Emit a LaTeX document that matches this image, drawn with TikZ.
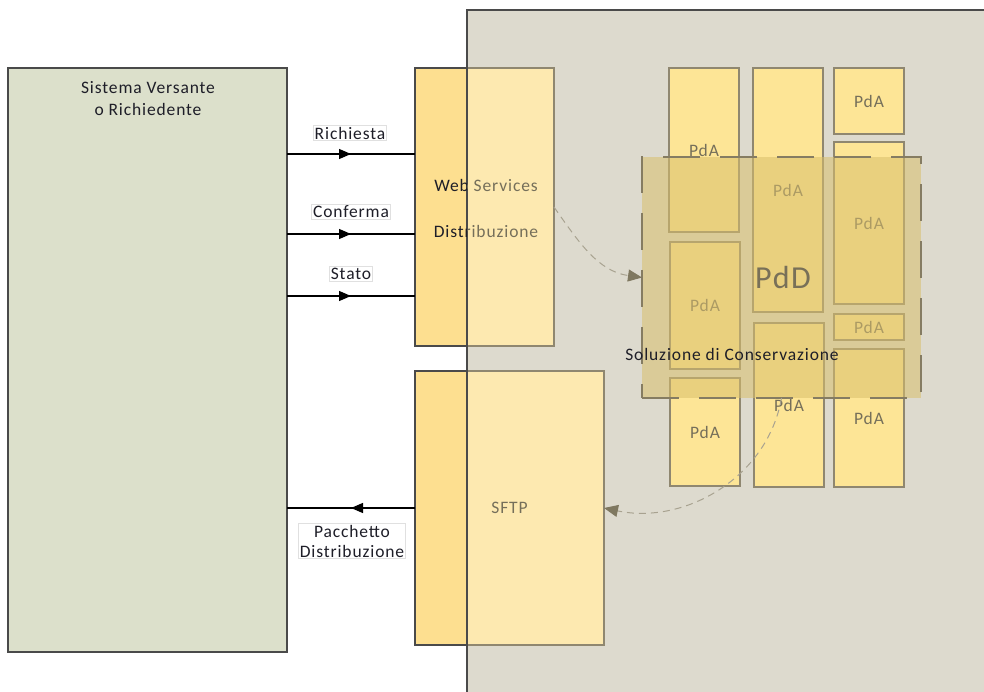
\documentclass[tikz,border=0pt]{standalone}
\usepackage{fontspec}
\setmainfont{Carlito}[LetterSpace=5]
\usetikzlibrary{arrows.meta,decorations.markings}
\definecolor{greyreg}{HTML}{DDDACE}
\definecolor{greenbox}{HTML}{DCE0CB}
\definecolor{yelA}{HTML}{FDDF90}
\definecolor{yelB}{HTML}{FDE9B0}
\definecolor{pda}{HTML}{FDE596}
\definecolor{pdaline}{HTML}{8F8770}
\definecolor{overlayc}{HTML}{D9BF6C}
\definecolor{greytxt}{HTML}{756F5A}
\definecolor{darkline}{HTML}{4A4A4A}
\definecolor{txtdark}{HTML}{1E1E28}
\definecolor{dashc}{HTML}{A8A290}
\definecolor{tipc}{HTML}{7F7860}
\definecolor{pddline}{HTML}{857C62}
\tikzset{
  box/.style={anchor=north west, inner sep=0pt, outer sep=0pt},
  pdabox/.style={box, draw=pdaline, fill=pda, line width=1.2pt},
  pdatxt/.style={text=greytxt, font=\fontsize{17.5}{20}\selectfont},
  flow/.style={draw=black, line width=1.2pt, postaction={decorate},
    decoration={markings, mark=at position #1 with {\arrow{Triangle[length=12pt,width=10pt]}}}},
  lbl/.style={draw=black!12, fill=white, line width=0.6pt, inner sep=1.5pt, text=txtdark,
    font=\fontsize{17.5}{20}\selectfont, align=center},
  dasharrow/.style={draw=dashc, line width=1pt, dash pattern=on 7pt off 5pt,
    -{Triangle[length=14pt,width=12pt,color=tipc]}},
  wstxt/.style={font=\fontsize{17.5}{21}\selectfont, align=center}
}
\begin{document}
\begin{tikzpicture}[x=1pt,y=-1pt]
\useasboundingbox (0,0) rectangle (984,692);
% big grey region
\node[box, draw=darkline, fill=greyreg, line width=1.6pt, minimum width=540pt, minimum height=700pt] (sol) at (467,10) {};
% left system box
\node[box, draw=darkline, fill=greenbox, line width=1.3pt, minimum width=279pt, minimum height=584pt] (sys) at (8,68) {};
\node[text=txtdark, font=\fontsize{17.5}{22}\selectfont, align=center] (systxt) at (148,99) {Sistema Versante\\o Richiedente};
% web services box
\node[box, draw=pdaline, fill=yelB, line width=1.2pt, minimum width=139pt, minimum height=278pt] (ws) at (415,68) {};
\filldraw[fill=yelA, draw=darkline, line width=1.2pt] (sol.west |- ws.north) -- (ws.north west) -- (ws.south west) -- (sol.west |- ws.south);
% sftp box
\node[box, draw=pdaline, fill=yelB, line width=1.2pt, minimum width=189pt, minimum height=274pt] (sftp) at (415,371) {};
\filldraw[fill=yelA, draw=darkline, line width=1.2pt] (sol.west |- sftp.north) -- (sftp.north west) -- (sftp.south west) -- (sol.west |- sftp.south);
\draw[darkline, line width=1.6pt] (sol.north west) -- (sol.south west);
% texts of ws
\begin{scope}
\clip (ws.north west) rectangle (sol.west |- ws.south);
\node[wstxt, text=txtdark] (wsA) at (486,208) {Web Services\\[25pt]Distribuzione};
\end{scope}
\begin{scope}
\clip (sol.west |- ws.north) rectangle (ws.south east);
\node[wstxt, text=greytxt] (wsB) at (486,208) {Web Services\\[25pt]Distribuzione};
\end{scope}
\node[pdatxt] (sftptxt) at (sftp.center) {SFTP};
% PdA boxes
\node[pdabox, minimum width=70pt, minimum height=164pt] (a1) at (669,68) {};
\node[pdatxt] at (a1.center) {PdA};
\node[pdabox, minimum width=70pt, minimum height=127pt] (a2) at (670,242) {};
\node[pdatxt] at (a2.center) {PdA};
\node[pdabox, minimum width=70pt, minimum height=108pt] (a3) at (670,378) {};
\node[pdatxt] at (a3.center) {PdA};
\node[pdabox, minimum width=70pt, minimum height=244pt] (b1) at (753,68) {};
\node[pdatxt] at (b1.center) {PdA};
\node[pdabox, minimum width=70pt, minimum height=164pt] (b2) at (754,323) {};
\node[pdatxt] at (b2.center) {PdA};
\node[pdabox, minimum width=70pt, minimum height=66pt] (c1) at (834,68) {};
\node[pdatxt] at (c1.center) {PdA};
\node[pdabox, minimum width=70pt, minimum height=162pt] (c2) at (834,142) {};
\node[pdatxt] at (c2.center) {PdA};
\node[pdabox, minimum width=70pt, minimum height=26pt] (c3) at (834,314) {};
\node[pdatxt] at (c3.center) {PdA};
\node[pdabox, minimum width=70pt, minimum height=138pt] (c4) at (834,349) {};
\node[pdatxt] at (c4.center) {PdA};
% PdD overlay
\node[box, fill=overlayc, fill opacity=0.55, text opacity=1, draw=pddline, line width=2pt,
  dash pattern=on 37pt off 20pt, minimum width=279pt, minimum height=241pt] (pdd) at (642,157) {};
\node[text=pddline!90!black, font=\fontsize{32}{36}\selectfont] (pddtxt) at (783,277) {PdD};
\node[text=txtdark, font=\fontsize{17.5}{20}\selectfont] (soltxt) at (732,354) {Soluzione di Conservazione};
% curved dashed arrows
\draw[dasharrow] (ws.east) to[out=-55, in=172] (pdd.west);
\draw[dasharrow] (pdd.south) to[out=-100, in=-12] (sftp.east);
% flows
\coordinate (y1) at (0,154);
\coordinate (y2) at (0,234);
\coordinate (y3) at (0,296);
\coordinate (y4) at (0,508);
\draw[flow=0.5] (sys.east |- y1) -- (ws.west |- y1);
\draw[flow=0.5] (sys.east |- y2) -- (ws.west |- y2);
\draw[flow=0.5] (sys.east |- y3) -- (ws.west |- y3);
\draw[flow=0.5] (sftp.west |- y4) -- (sys.east |- y4);
\node[lbl] (l1) at (350,133) {Richiesta};
\node[lbl] (l2) at (351,212) {Conferma};
\node[lbl] (l3) at (351,274) {Stato};
\node[lbl] (l4) at (352,541) {Pacchetto\\Distribuzione};
\end{tikzpicture}
\end{document}
